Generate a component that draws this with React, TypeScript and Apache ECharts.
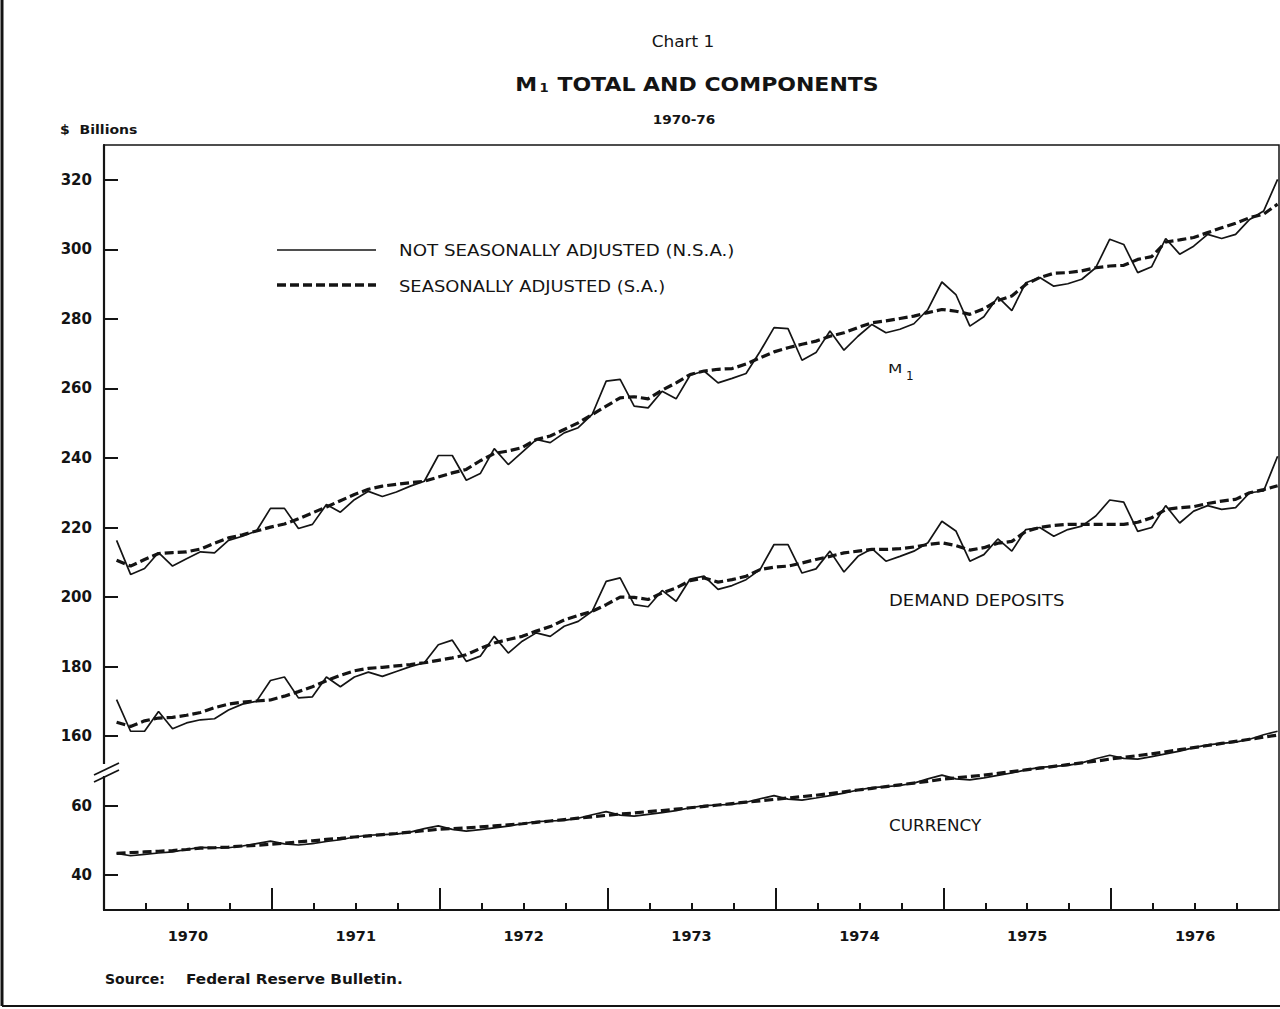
import React, { useEffect, useRef } from "react";
import * as echarts from "echarts";

// ---- data (monthly, Jan 1970 .. Dec 1976), $ billions ----
const years = ["1970", "1971", "1972", "1973", "1974", "1975", "1976"];
const yTickLabels = [40, 60, 160, 180, 200, 220, 240, 260, 280, 300, 320];

const m1NSA = [
  216.3, 206.5, 208.2, 212.8, 208.9, 211.0, 213.0, 212.7, 216.3, 217.5, 219.0, 225.5,
  225.5, 219.7, 220.9, 226.6, 224.4, 228.0, 230.4, 228.9, 230.2, 231.9, 233.3, 240.7,
  240.7, 233.6, 235.5, 242.7, 238.1, 241.7, 245.3, 244.4, 247.2, 248.7, 252.5, 262.1,
  262.6, 254.9, 254.4, 259.2, 257.0, 263.8, 265.0, 261.6, 262.9, 264.3, 270.6, 277.5,
  277.2, 268.1, 270.3, 276.5, 271.0, 275.0, 278.4, 276.0, 277.0, 278.6, 282.7, 290.6,
  287.0, 277.9, 280.6, 286.3, 282.4, 290.4, 291.9, 289.4, 290.1, 291.4, 294.7, 302.9,
  301.4, 293.3, 295.0, 303.1, 298.6, 300.9, 304.3, 303.1, 304.3, 308.6, 311.0, 320.1,
];
const m1SA = [
  210.6, 208.9, 210.8, 212.5, 212.8, 213.0, 213.8, 215.5, 217.0, 217.9, 219.0, 220.1,
  221.0, 222.5, 224.2, 225.9, 227.7, 229.5, 231.0, 231.9, 232.4, 232.9, 233.3, 234.5,
  235.7, 236.7, 239.2, 241.3, 242.0, 243.0, 245.3, 246.3, 248.2, 250.1, 252.5, 254.9,
  257.3, 257.6, 257.0, 259.5, 261.6, 264.0, 265.0, 265.5, 265.7, 267.0, 268.8, 270.5,
  271.7, 272.7, 273.6, 275.0, 276.0, 277.5, 278.9, 279.4, 280.1, 280.8, 281.8, 282.7,
  282.2, 281.3, 282.9, 285.3, 286.6, 289.9, 291.9, 293.1, 293.3, 293.8, 294.7, 295.2,
  295.4, 297.1, 297.9, 302.1, 302.7, 303.4, 304.8, 306.2, 307.5, 309.1, 310.1, 313.0,
];
const ddNSA = [
  170.5, 161.4, 161.4, 167.1, 162.1, 163.8, 164.7, 165.0, 167.5, 169.2, 170.0, 176.0,
  177.0, 171.0, 171.3, 177.0, 174.2, 177.0, 178.4, 177.2, 178.6, 180.0, 181.1, 186.3,
  187.6, 181.5, 183.0, 188.7, 183.9, 187.3, 189.7, 188.7, 191.6, 193.0, 195.9, 204.5,
  205.5, 197.8, 197.2, 201.9, 198.8, 205.2, 206.0, 202.2, 203.3, 205.0, 207.9, 215.1,
  215.1, 206.9, 208.1, 213.2, 207.2, 211.7, 213.9, 210.3, 211.7, 213.2, 215.6, 221.8,
  219.0, 210.3, 212.2, 216.7, 213.2, 219.4, 220.0, 217.5, 219.4, 220.4, 223.3, 227.9,
  227.3, 218.9, 220.0, 226.3, 221.3, 224.7, 226.3, 225.2, 225.7, 230.0, 230.5, 240.5,
];
const ddSA = [
  164.0, 162.8, 164.4, 165.2, 165.4, 166.0, 166.8, 168.2, 169.2, 169.8, 170.1, 170.4,
  171.5, 172.8, 174.2, 175.9, 177.5, 178.8, 179.5, 179.8, 180.2, 180.6, 181.1, 181.8,
  182.5, 183.4, 185.2, 186.8, 187.8, 188.7, 190.2, 191.5, 193.4, 194.7, 195.9, 197.8,
  200.0, 199.9, 199.3, 201.2, 202.6, 204.7, 205.5, 204.3, 205.0, 206.0, 207.9, 208.6,
  208.9, 209.8, 210.8, 211.7, 212.7, 213.2, 213.7, 213.7, 213.9, 214.4, 215.1, 215.6,
  214.8, 213.5, 214.2, 215.5, 216.0, 218.9, 220.0, 220.6, 220.9, 220.9, 220.9, 220.9,
  220.9, 221.5, 222.8, 225.2, 225.7, 226.0, 226.9, 227.6, 228.1, 230.0, 230.9, 232.0,
];
const curNSA = [
  46.3, 45.6, 46.0, 46.4, 46.7, 47.4, 48.0, 47.9, 47.9, 48.4, 49.1, 49.8,
  49.0, 48.7, 49.1, 49.7, 50.2, 51.0, 51.5, 51.7, 51.8, 52.4, 53.4, 54.2,
  53.2, 52.7, 53.1, 53.6, 54.1, 54.8, 55.4, 55.6, 55.8, 56.4, 57.4, 58.3,
  57.3, 57.0, 57.5, 58.0, 58.6, 59.4, 60.0, 60.2, 60.4, 61.0, 62.0, 62.9,
  61.9, 61.6, 62.2, 62.9, 63.6, 64.5, 65.2, 65.5, 65.8, 66.5, 67.7, 68.8,
  67.7, 67.4, 68.0, 68.7, 69.4, 70.3, 71.0, 71.3, 71.6, 72.3, 73.5, 74.5,
  73.6, 73.4, 74.1, 74.9, 75.7, 76.7, 77.5, 77.9, 78.3, 79.1, 80.4, 81.4,
];
const curSA = [
  46.3, 46.5, 46.7, 46.9, 47.1, 47.4, 47.8, 47.9, 48.1, 48.4, 48.6, 48.9,
  49.2, 49.6, 49.9, 50.3, 50.6, 51.0, 51.3, 51.7, 52.0, 52.4, 52.8, 53.2,
  53.4, 53.6, 53.9, 54.2, 54.5, 54.8, 55.2, 55.6, 56.0, 56.4, 56.8, 57.2,
  57.6, 57.9, 58.3, 58.6, 59.0, 59.4, 59.8, 60.2, 60.6, 61.0, 61.4, 61.8,
  62.2, 62.6, 63.0, 63.5, 64.0, 64.5, 65.0, 65.5, 66.0, 66.5, 67.0, 67.6,
  68.0, 68.4, 68.8, 69.3, 69.8, 70.3, 70.8, 71.3, 71.8, 72.3, 72.8, 73.4,
  73.9, 74.4, 74.9, 75.5, 76.1, 76.7, 77.3, 77.9, 78.5, 79.1, 79.7, 80.3,
];

// Broken scale: values of the upper panel (>=160) are drawn 80 lower on the axis.
const BREAK_SHIFT = 80;
const BREAK_AT = 160;

export default function App() {
  const ref = useRef<HTMLDivElement>(null);

  useEffect(() => {
    document.body.style.margin = "0";
    const chart = echarts.init(ref.current!, null, { renderer: "svg" });
    const font = "'DejaVu Sans', Verdana, sans-serif";
    const ink = "#141414";

    const toAxis = (v: number) => (v >= BREAK_AT ? v - BREAK_SHIFT : v);
    const fromAxis = (v: number) => (v >= BREAK_AT - BREAK_SHIFT ? v + BREAK_SHIFT : v);
    const pts = (arr: number[]) => arr.map((v, i) => [i + 0.9, toAxis(v)]);

    const nMonths = years.length * 12;
    const yearCenters = years.map((_, i) => i * 12 + 6);
    const yearBounds = years.slice(1).map((_, i) => (i + 1) * 12);
    const quarterTicks: number[] = [];
    for (let q = 3; q < nMonths; q += 3) if (q % 12 !== 0) quarterTicks.push(q);

    const solid = (name: string, data: number[]) => ({
      type: "line",
      name,
      data: pts(data),
      symbol: "none",
      lineStyle: { color: ink, width: 1.7 },
      z: 3,
    });
    const dashed = (name: string, data: number[]) => ({
      type: "line",
      name,
      data: pts(data),
      symbol: "none",
      lineStyle: { color: ink, width: 3.2, type: [9, 4] },
      z: 4,
    });

    const txt = (x: number, y: number, text: string, size: number, weight: any = "normal", align: any = "left", sx = 1) => ({
      type: "text",
      x,
      y,
      scaleX: sx,
      style: {
        text,
        fill: ink,
        font: `${weight} ${size}px ${font}`,
        textAlign: align,
        textVerticalAlign: "middle",
      },
      z: 10,
    });

    const option: any = {
      animation: false,
      backgroundColor: "#ffffff",
      grid: {
        left: 104,
        right: 1,
        top: 145,
        bottom: 99,
        show: true,
        borderColor: ink,
        borderWidth: 1.5,
        backgroundColor: "transparent",
      },
      xAxis: [
        {
          type: "value",
          min: 0,
          max: nMonths,
          axisLine: { show: true, lineStyle: { color: ink, width: 2 } },
          splitLine: { show: false },
          axisTick: {
            show: true,
            inside: true,
            length: 7,
            lineStyle: { color: ink, width: 2 },
            customValues: quarterTicks,
          },
          axisLabel: {
            show: true,
            customValues: yearCenters,
            formatter: (v: number) => years[Math.floor(v / 12)] ?? "",
            color: ink,
            fontFamily: font,
            fontWeight: "bold",
            fontSize: 14.5,
            margin: 18,
          },
        },
        {
          type: "value",
          min: 0,
          max: nMonths,
          position: "bottom",
          axisLine: { show: false },
          splitLine: { show: false },
          axisLabel: { show: false },
          axisTick: {
            show: true,
            inside: true,
            length: 22,
            lineStyle: { color: ink, width: 2 },
            customValues: yearBounds,
          },
        },
      ],
      yAxis: {
        type: "value",
        min: 30,
        max: 250,
        axisLine: { show: true, lineStyle: { color: ink, width: 2.2 } },
        splitLine: { show: false },
        axisTick: {
          show: true,
          inside: true,
          length: 14,
          lineStyle: { color: ink, width: 2 },
          customValues: yTickLabels.map(toAxis),
        },
        axisLabel: {
          show: true,
          customValues: yTickLabels.map(toAxis),
          formatter: (v: number) => String(fromAxis(v)),
          color: ink,
          fontFamily: font,
          fontWeight: "bold",
          fontSize: 15,
          margin: 12,
        },
      },
      series: [
        solid("M1 N.S.A.", m1NSA),
        dashed("M1 S.A.", m1SA),
        solid("Demand deposits N.S.A.", ddNSA),
        dashed("Demand deposits S.A.", ddSA),
        solid("Currency N.S.A.", curNSA),
        dashed("Currency S.A.", curSA),
      ],
      graphic: [
        // outer frame
        { type: "line", shape: { x1: 2, y1: 0, x2: 2, y2: 1006 }, style: { stroke: ink, lineWidth: 3 } },
        { type: "line", shape: { x1: 2, y1: 1006, x2: 1280, y2: 1006 }, style: { stroke: ink, lineWidth: 2 } },
        // axis break marks
        { type: "rect", shape: { x: 100, y: 764, width: 8, height: 12 }, style: { fill: "#fff" }, z: 9 },
        { type: "line", shape: { x1: 94, y1: 775, x2: 119, y2: 763 }, style: { stroke: ink, lineWidth: 1.8 }, z: 10 },
        { type: "line", shape: { x1: 94, y1: 782, x2: 119, y2: 770 }, style: { stroke: ink, lineWidth: 1.8 }, z: 10 },
        // titles
        txt(683, 42, "Chart 1", 15, "normal", "center", 1.13),
        {
          type: "text",
          x: 697,
          y: 84,
          scaleX: 1.1,
          style: {
            text: "{m|M}{s|1}{m| TOTAL AND COMPONENTS}",
            textAlign: "center",
            textVerticalAlign: "middle",
            rich: {
              m: { font: `bold 20px ${font}`, fill: ink },
              s: { font: `bold 12px ${font}`, fill: ink, padding: [8, 1, 0, 2] },
            },
          },
          z: 10,
        },
        txt(684, 120, "1970-76", 13, "bold", "center", 1.05),
        txt(60, 129, "$  Billions", 13, "bold", "left", 1.08),
        // legend
        { type: "line", shape: { x1: 277, y1: 250, x2: 376, y2: 250 }, style: { stroke: ink, lineWidth: 1.5 } },
        { type: "line", shape: { x1: 277, y1: 285, x2: 376, y2: 285 }, style: { stroke: ink, lineWidth: 3.5, lineDash: [9, 4] } },
        txt(399, 250, "NOT SEASONALLY ADJUSTED (N.S.A.)", 16, "normal", "left", 1.14),
        txt(399, 286, "SEASONALLY ADJUSTED (S.A.)", 16, "normal", "left", 1.12),
        // series labels
        txt(888, 369, "M", 11.5, "normal", "left", 1.45),
        txt(906, 376, "1", 12, "normal", "left"),
        txt(889, 601, "DEMAND DEPOSITS", 15, "normal", "left", 1.2),
        txt(889, 826, "CURRENCY", 15, "normal", "left", 1.12),
        // source
        txt(105, 979, "Source:", 14, "bold", "left"),
        txt(186, 979, "Federal Reserve Bulletin.", 14, "bold", "left", 1.09),
      ],
    };

    chart.setOption(option);
    return () => chart.dispose();
  }, []);

  return <div ref={ref} style={{ width: 1280, height: 1009 }} />;
}
